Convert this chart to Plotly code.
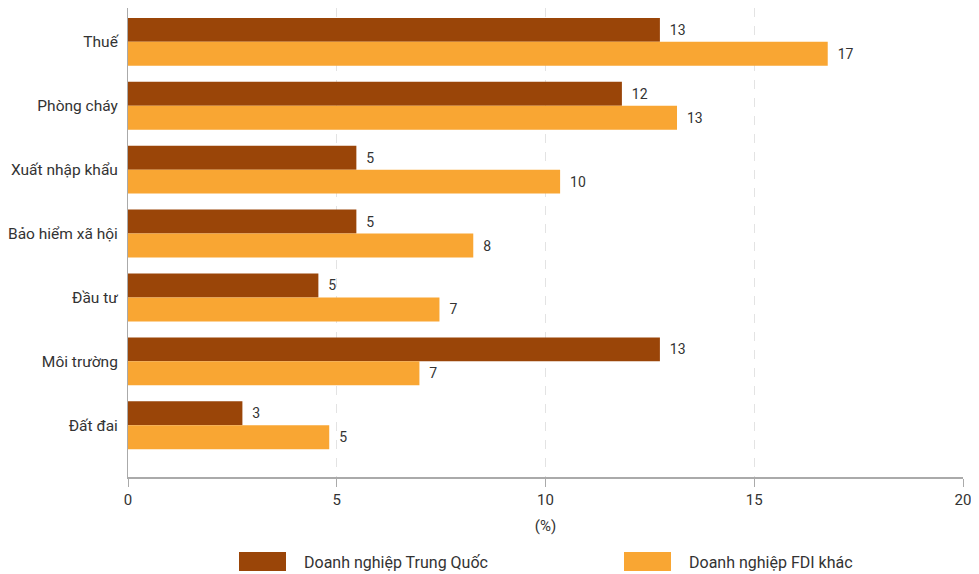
import plotly.graph_objects as go

# ── Data ─────────────────────────────────────────────────────────────────────

categories = ["Thuế", "Phòng cháy", "Xuất nhập khẩu", "Bảo hiểm xã hội",
              "Đầu tư", "Môi trường", "Đất đai"]

china_values = [12.74, 11.83, 5.47, 5.47, 4.56, 12.74, 2.74]
china_labels = ["13", "12", "5", "5", "5", "13", "3"]

fdi_values = [16.76, 13.15, 10.35, 8.27, 7.46, 6.98, 4.82]
fdi_labels = ["17", "13", "10", "8", "7", "7", "5"]

series_names = ["Doanh nghiệp Trung Quốc", "Doanh nghiệp FDI khác"]
x_ticks = [0, 5, 10, 15, 20]

DARK = "#9a4508"
LIGHT = "#f9a633"
FONT = "Roboto, sans-serif"
TEXT = "#333333"

# page body adds 8px; figure is sized so the plot sits like the reference
W, H = 971, 566
L, R, T, B = 120, 16, 0, 97
PW, PH = W - L - R, H - T - B

# ── Figure ───────────────────────────────────────────────────────────────────

fig = go.Figure()
for name, vals, labels, color in [
    (series_names[0], china_values, china_labels, DARK),
    (series_names[1], fdi_values, fdi_labels, LIGHT),
]:
    fig.add_trace(go.Bar(
        y=categories, x=vals, orientation="h", name=name,
        marker=dict(color=color, line_width=0),
        text=["\u00a0\u00a0" + t for t in labels],
        textposition="outside", cliponaxis=False,
        textfont=dict(family=FONT, size=14, color=TEXT),
        showlegend=False,
    ))

fig.update_layout(
    width=W, height=H,
    margin=dict(l=L, r=R, t=T, b=B),
    barmode="group", bargap=0.25, bargroupgap=0,
    plot_bgcolor="white", paper_bgcolor="white",
    font=dict(family=FONT, color=TEXT),
    xaxis=dict(
        range=[0, 20], tickvals=x_ticks, automargin=False,
        showgrid=True, gridcolor="#e3e3e3", griddash="dash", gridwidth=1,
        showline=True, linecolor="#aaaaaa", linewidth=2,
        ticks="outside", ticklen=8, tickcolor="#aaaaaa", tickwidth=1,
        tickfont=dict(size=15, color=TEXT),
        title=dict(text="(%)", font=dict(size=15, color=TEXT), standoff=12),
        zeroline=False,
    ),
    yaxis=dict(
        type="category", range=[6.81, -0.53], automargin=False,
        showgrid=False, showline=True, linecolor="#aaaaaa", linewidth=1,
        ticks="", ticklabelstandoff=6,
        tickfont=dict(size=15.5, color=TEXT),
    ),
)

# legend drawn by hand for the large swatches (page px -> paper coords)
def px_x(x):
    return (x - 8 - L) / PW


def px_y(y):
    return (H - B - (y - 8)) / PH


for i, (name, color) in enumerate(zip(series_names, [DARK, LIGHT])):
    x0 = 239 + i * 385
    fig.add_shape(type="rect", xref="paper", yref="paper",
                  x0=px_x(x0), x1=px_x(x0 + 47),
                  y0=px_y(571), y1=px_y(552),
                  fillcolor=color, line_width=0)
    fig.add_annotation(xref="paper", yref="paper",
                       x=px_x(x0 + 63), y=px_y(562),
                       text=name, showarrow=False, xanchor="left", yanchor="middle",
                       font=dict(family=FONT, size=16, color=TEXT))

fig.write_html("out.html")
